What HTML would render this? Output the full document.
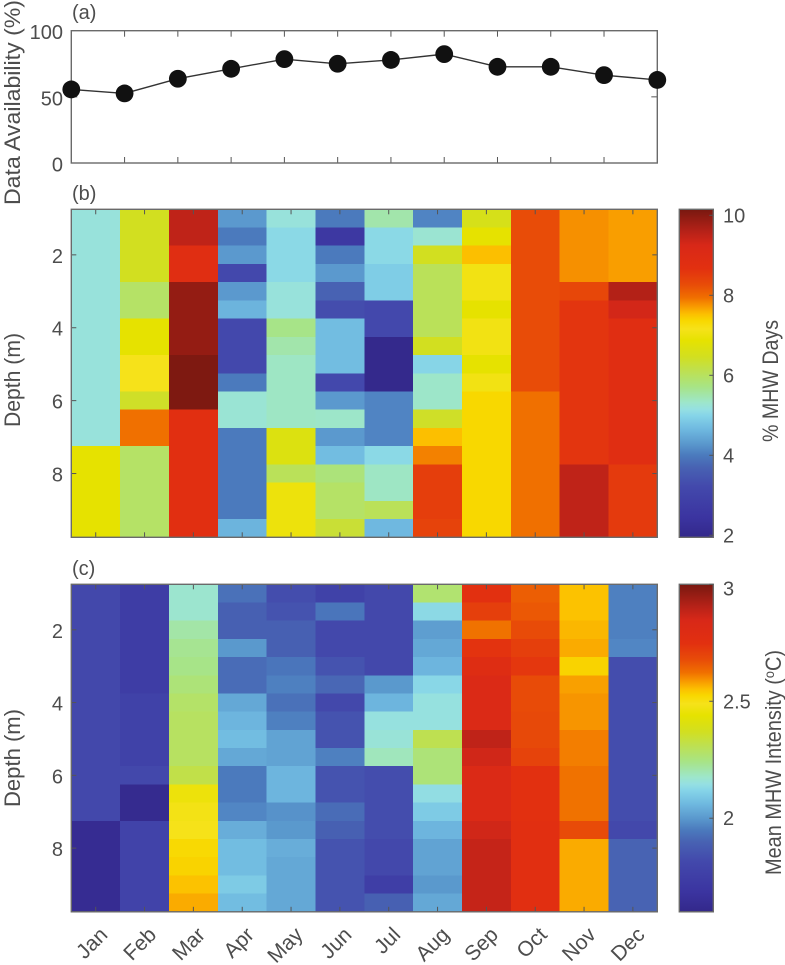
<!DOCTYPE html>
<html lang="en">
<head>
<meta charset="utf-8">
<title>Marine heatwave monthly depth profile</title>
<style>
html,body{margin:0;padding:0;background:#fff;}
svg{display:block;font-family:"Liberation Sans",sans-serif;fill:#4d4d4d;}
text{font-size:20px;fill:#4d4d4d;}
text.big{font-size:22px;}
text.month{font-size:21px;}
</style>
</head>
<body>
<svg id="figure" width="785" height="965" viewBox="0 0 785 965" xmlns="http://www.w3.org/2000/svg">
  <defs id="defs"></defs>
  <g id="panelA"></g>
  <g id="panelB"></g>
  <g id="panelC"></g>
  <g id="labels">
    <text x="72" y="19">(a)</text>
    <text x="72" y="200">(b)</text>
    <text x="72" y="575">(c)</text>
    <text class="big" transform="translate(20,205) rotate(-90)" textLength="205" lengthAdjust="spacingAndGlyphs">Data Availability (%)</text>
    <text class="big" transform="translate(20,427) rotate(-90)" textLength="94" lengthAdjust="spacingAndGlyphs">Depth (m)</text>
    <text class="big" transform="translate(20,807) rotate(-90)" textLength="98" lengthAdjust="spacingAndGlyphs">Depth (m)</text>
    <text class="big" transform="translate(778,442) rotate(-90)" textLength="122" lengthAdjust="spacingAndGlyphs">% MHW Days</text>
    <text class="big" transform="translate(781,875) rotate(-90)" textLength="225" lengthAdjust="spacingAndGlyphs">Mean MHW Intensity (<tspan dy="-7" style="font-size:14px">o</tspan><tspan dy="7">C)</tspan></text>
  </g>
</svg>
<script>
// ---- chart data ----
const months = ["Jan","Feb","Mar","Apr","May","Jun","Jul","Aug","Sep","Oct","Nov","Dec"];
const availability = [55.6,52.6,63.7,71.2,78.5,75,77.9,82.3,72.7,72.7,66.4,62.8];
const availabilityTicks = [0,50,100];
const depths = [1,1.5,2,2.5,3,3.5,4,4.5,5,5.5,6,6.5,7,7.5,8,8.5,9,9.5];
const depthTicks = [2,4,6,8];
const mhwDaysTicks = [2,4,6,8,10];
const intensityTicks = [2,2.5,3];

const mhwDaysJan = [5.2,5.2,5.2,5.2,5.2,5.2,5.2,5.2,5.2,5.2,5.2,5.2,5.2,6.87,6.87,6.87,6.87,6.87];
const mhwDaysFeb = [6.46,6.46,6.46,6.46,5.95,5.95,6.87,6.87,7.16,7.16,6.4,7.94,7.94,5.95,5.95,5.95,5.95,5.95];
const mhwDaysMar = [9.5,9.5,8.79,8.79,9.9,9.9,9.9,9.9,10.1,10.1,10.1,8.76,8.76,8.76,8.76,8.76,8.76,8.76];
const mhwDaysApr = [4.3,4.0,4.3,3.2,4.3,4.6,3.2,3.2,3.2,4.0,5.25,5.25,4.0,4.0,4.0,4.0,4.0,4.6];
const mhwDaysMay = [5.2,5.05,5.05,5.05,5.2,5.2,5.7,5.5,5.36,5.36,5.36,5.36,6.67,6.67,6.05,7.0,7.0,7.0];
const mhwDaysJun = [4.0,2.6,4.0,4.3,3.7,3.3,4.7,4.7,4.7,3.2,4.3,5.33,4.3,4.7,5.8,5.95,5.95,6.3];
const mhwDaysJul = [5.5,5.05,5.05,4.9,4.9,3.2,3.2,2.0,2.0,2.0,4.1,4.1,4.1,5.05,5.36,5.36,6.05,4.65];
const mhwDaysAug = [4.1,5.27,6.46,6.05,6.05,6.05,6.05,6.46,5.0,5.33,5.33,6.4,7.53,7.85,8.47,8.47,8.47,8.4];
const mhwDaysSep = [6.55,6.87,7.53,7.08,7.08,6.87,7.08,7.08,6.87,7.08,7.36,7.36,7.36,7.36,7.36,7.36,7.36,7.36];
const mhwDaysOct = [8.26,8.26,8.26,8.26,8.26,8.26,8.26,8.26,8.26,8.26,7.94,7.94,7.94,7.94,7.94,7.94,7.94,7.94];
const mhwDaysNov = [7.77,7.77,7.77,7.77,8.33,8.6,8.6,8.6,8.6,8.6,8.6,8.6,8.6,8.6,9.5,9.5,9.5,9.5];
const mhwDaysDec = [7.7,7.7,7.7,7.7,9.62,9.3,8.79,8.79,8.79,8.79,8.79,8.79,8.79,8.79,8.53,8.53,8.53,8.53];
const mhwDays = [mhwDaysJan,mhwDaysFeb,mhwDaysMar,mhwDaysApr,mhwDaysMay,mhwDaysJun,mhwDaysJul,mhwDaysAug,mhwDaysSep,mhwDaysOct,mhwDaysNov,mhwDaysDec];

const intensityJan = [1.81,1.81,1.81,1.81,1.81,1.81,1.81,1.81,1.81,1.81,1.81,1.81,1.81,1.63,1.63,1.63,1.63,1.63];
const intensityFeb = [1.74,1.74,1.74,1.74,1.74,1.74,1.77,1.77,1.77,1.77,1.81,1.62,1.62,1.78,1.78,1.78,1.78,1.78];
const intensityMar = [2.17,2.17,2.21,2.23,2.24,2.26,2.28,2.29,2.29,2.29,2.32,2.46,2.48,2.49,2.52,2.53,2.55,2.57];
const intensityApr = [1.93,1.89,1.89,2.0,1.92,1.92,2.03,2.055,2.07,2.03,1.95,1.95,1.97,2.04,2.07,2.07,2.10,2.07];
const intensityMay = [1.83,1.85,1.89,1.89,1.94,1.96,1.93,1.96,2.02,2.02,2.055,2.055,1.99,2.0,2.04,2.03,2.03,2.03];
const intensityJun = [1.77,1.94,1.81,1.81,1.85,1.91,1.81,1.85,1.85,1.96,1.85,1.85,1.92,1.89,1.85,1.85,1.85,1.85];
const intensityJul = [1.81,1.81,1.81,1.81,1.81,2.0,2.055,2.15,2.16,2.19,1.83,1.83,1.83,1.83,1.81,1.81,1.75,1.89];
const intensityAug = [2.27,2.13,2.01,2.03,2.055,2.125,2.15,2.15,2.31,2.26,2.26,2.14,2.10,2.055,2.02,2.02,2.0,2.03];
const intensitySep = [2.75,2.71,2.62,2.74,2.79,2.82,2.82,2.82,2.89,2.86,2.82,2.82,2.82,2.86,2.88,2.88,2.88,2.88];
const intensityOct = [2.65,2.66,2.68,2.71,2.73,2.68,2.68,2.685,2.685,2.70,2.75,2.75,2.75,2.76,2.76,2.76,2.76,2.76];
const intensityNov = [2.55,2.55,2.56,2.57,2.53,2.58,2.59,2.59,2.61,2.61,2.62,2.62,2.62,2.68,2.57,2.57,2.57,2.57];
const intensityDec = [1.96,1.96,1.96,1.97,1.83,1.83,1.83,1.83,1.83,1.83,1.83,1.83,1.83,1.81,1.90,1.90,1.90,1.90];
const intensity = [intensityJan,intensityFeb,intensityMar,intensityApr,intensityMay,intensityJun,intensityJul,intensityAug,intensitySep,intensityOct,intensityNov,intensityDec];

// colormap (position along the colour scale -> colour)
const cmapPositions = [0,.06,.155,.215,.25,.285,.33,.37,.39,.41,.46,.51,.55,.60,.635,.66,.68,.705,.73,.77,.82,.89,.93,1];
const cmapColors = ["#33288a","#3b34a0","#4349ac","#4863b3","#4b7abd","#5a98cd","#6fb9e0","#85d4e8","#95e0e2","#9de6cc","#a8e484","#bfe04e","#d2df20","#e6e200","#f6e21a","#f8d800","#fcc000","#f89800","#f07000","#e84c08","#e23010","#d82818","#b82218","#781810"];

// ---- layout ----
const NS = "http://www.w3.org/2000/svg";
const FRAME = "#6a6a6a", TICK = "#555555";
const plotLeft = 71.3, plotRight = 657.3;
const barLeft = 679.3, barRight = 713.3;

function make(tag, attrs, parent) {
  const el = document.createElementNS(NS, tag);
  for (const k in attrs) el.setAttribute(k, attrs[k]);
  parent.appendChild(el);
  return el;
}
function hexToRgb(h) {
  return [parseInt(h.slice(1,3),16), parseInt(h.slice(3,5),16), parseInt(h.slice(5,7),16)];
}
function cmap(t) {
  t = Math.max(0, Math.min(1, t));
  let i = 0;
  while (i < cmapPositions.length - 2 && t > cmapPositions[i + 1]) i++;
  const f = (t - cmapPositions[i]) / (cmapPositions[i + 1] - cmapPositions[i]);
  const a = hexToRgb(cmapColors[i]), b = hexToRgb(cmapColors[i + 1]);
  return "rgb(" + a.map((c, j) => Math.round(c + (b[j] - c) * f)).join(",") + ")";
}

// ---- panel (a): availability line ----
(function () {
  const g = document.getElementById("panelA");
  const top = 30.7, bottom = 163;
  const xScale = i => plotLeft + i * (plotRight - plotLeft) / (months.length - 1);
  const yScale = v => bottom - (v / 100) * (bottom - top);

  months.forEach((m, i) => {
    if (i === 0 || i === months.length - 1) return;
    [[top, top + 6], [bottom, bottom - 6]].forEach(p => {
      const t = make("line", {x1: xScale(i), x2: xScale(i), y1: p[0], y2: p[1], stroke: TICK, "stroke-width": 1}, g);
      
      
    });
  });
  availabilityTicks.forEach(v => {
    const lab = make("text", {x: 63, y: yScale(v) + 8.5, "text-anchor": "end"}, g);
    lab.textContent = v;
    
    
    if (v === 50) {
      [[plotLeft, plotLeft + 6], [plotRight, plotRight - 6]].forEach(p => {
        const t = make("line", {x1: p[0], x2: p[1], y1: yScale(v), y2: yScale(v), stroke: TICK, "stroke-width": 1}, g);
        
        
      });
    }
  });
  const frame = make("rect", {x: plotLeft, y: top, width: plotRight - plotLeft, height: bottom - top, fill: "none", stroke: FRAME, "stroke-width": 1.4}, g);
  
  

  const line = make("polyline", {
    points: availability.map((v, i) => xScale(i) + "," + yScale(v)).join(" "),
    fill: "none", stroke: "#333", "stroke-width": 1.4
  }, g);
  
  
  availability.forEach((v, i) => {
    const c = make("circle", {cx: xScale(i), cy: yScale(v), r: 8.9, fill: "#111"}, g);
    
    
  });
})();

// ---- heatmap panels ----
function heatmap(groupId, prefix, values, top, bottom, vMin, vMax, barTicks, showMonths) {
  const g = document.getElementById(groupId);
  const colW = (plotRight - plotLeft) / months.length;
  const rowH = (bottom - top) / depths.length;
  const xLeft = i => plotLeft + i * colW;
  const xMid = i => plotLeft + (i + 0.5) * colW;
  const yTop = r => top + r * rowH;
  const yDepth = d => top + (d - depths[0] + 0.25) / 0.5 * rowH;
  const tNorm = v => (v - vMin) / (vMax - vMin);
  const yBar = v => bottom - tNorm(v) * (bottom - top);

  values.forEach((col, i) => {
    col.forEach((v, r) => {
      const cell = make("rect", {
        x: xLeft(i), y: yTop(r), width: colW + 0.4, height: rowH + 0.4,
        fill: cmap(tNorm(v)), "shape-rendering": "crispEdges"
      }, g);
      
      
    });
  });

  months.forEach((m, i) => {
    [[top, top + 5], [bottom, bottom - 5]].forEach(p => {
      const t = make("line", {x1: xMid(i), x2: xMid(i), y1: p[0], y2: p[1], stroke: TICK, "stroke-width": 1}, g);
      
      
    });
    if (showMonths) {
      const lab = make("text", {"class": "month", transform: "translate(" + (xMid(i) + 13) + ",936) rotate(-45)", "text-anchor": "end"}, g);
      lab.textContent = m;
      
      
    }
  });
  depthTicks.forEach(d => {
    [[plotLeft, plotLeft + 5], [plotRight, plotRight - 5]].forEach(p => {
      const t = make("line", {x1: p[0], x2: p[1], y1: yDepth(d), y2: yDepth(d), stroke: TICK, "stroke-width": 1}, g);
      
      
    });
    const lab = make("text", {x: 63, y: yDepth(d) + 8, "text-anchor": "end"}, g);
    lab.textContent = d;
    
    
  });
  const frame = make("rect", {x: plotLeft, y: top, width: plotRight - plotLeft, height: bottom - top, fill: "none", stroke: FRAME, "stroke-width": 1.4}, g);
  
  

  // colorbar
  const defs = document.getElementById("defs");
  const gid = prefix + "-grad";
  const grad = make("linearGradient", {id: gid, x1: 0, y1: 1, x2: 0, y2: 0}, defs);
  cmapPositions.forEach((p, i) => make("stop", {offset: p, "stop-color": cmapColors[i]}, grad));
  const bar = make("rect", {x: barLeft, y: top, width: barRight - barLeft, height: bottom - top, fill: "url(#" + gid + ")", stroke: FRAME, "stroke-width": 1.4}, g);
  
  
  barTicks.forEach(v => {
    const y = yBar(v);
    const t = make("line", {x1: barRight - 4, x2: barRight, y1: y, y2: y, stroke: TICK, "stroke-width": 1}, g);
    
    
    const lab = make("text", {x: 723, y: Math.max(y, top + 4) + 7}, g);
    lab.textContent = v;
    
    
  });
}

heatmap("panelB", "mhw-days", mhwDays, 209.3, 537.3, 1.95, 10.15, mhwDaysTicks, false);
heatmap("panelC", "mhw-intensity", intensity, 584.3, 911.8, 1.6, 3.0, intensityTicks, true);
</script>
</body>
</html>
